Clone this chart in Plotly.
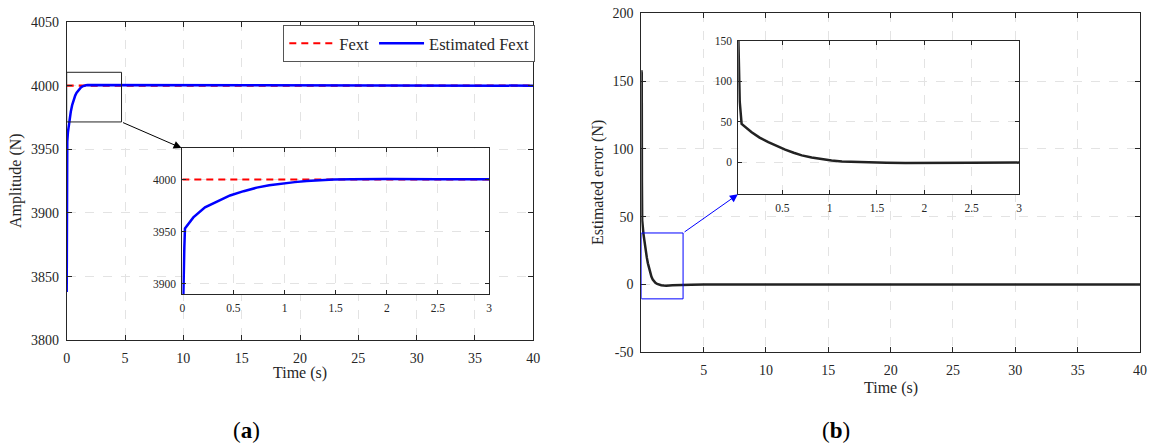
import plotly.graph_objects as go

# ---- data -------------------------------------------------------------
# estimated external force (panel a)
time_a = [0, 0.01, 0.02, 0.026, 0.05, 0.108, 0.222, 0.35, 0.467, 0.6, 0.728,
          0.85, 0.972, 1.1, 1.217, 1.35, 1.48, 1.65, 1.8, 2.0, 2.5, 3.0, 4.0,
          5.0, 10.0, 20.0, 30.0, 40.0]
est_fext = [3838, 3900, 3935, 3953, 3956, 3963.6, 3973.3, 3979.5, 3984.7,
            3988.8, 3992.2, 3994.4, 3996.1, 3997.5, 3998.6, 3999.4, 4000,
            4000.3, 4000.5, 4000.5, 4000.3, 4000.1, 4000, 4000, 4000, 4000,
            4000, 4000]
fext_t = [0, 40]
fext = [4000, 4000]

# estimation error (panel b)
time_b = [0, 0.035, 0.05, 0.07, 0.176, 0.26, 0.352, 0.44, 0.53, 0.62, 0.706,
          0.81, 0.918, 1.02, 1.13, 1.27, 1.41, 1.6, 1.8, 2.0, 2.5, 3.0, 4.0,
          5.0, 10.0, 20.0, 30.0, 40.0]
est_error = [158, 156, 75, 47.5, 37.2, 30.5, 24.9, 20, 15.6, 11.8, 8.6, 5.9,
             3.7, 2.3, 1.2, 0.5, 0, -0.5, -0.8, -0.9, -0.6, -0.3, -0.1, 0, 0,
             0, 0, 0]

ticks_a_x = [0, 5, 10, 15, 20, 25, 30, 35, 40]
ticks_a_y = [3800, 3850, 3900, 3950, 4000, 4050]
ticks_b_x = [5, 10, 15, 20, 25, 30, 35, 40]
ticks_b_y = [-50, 0, 50, 100, 150, 200]
ticks_in_x = [0, 0.5, 1, 1.5, 2, 2.5, 3]
ticks_in_a_y = [3900, 3950, 4000]
ticks_in_b_x = [0.5, 1, 1.5, 2, 2.5, 3]
ticks_in_b_y = [0, 50, 100, 150]

W, H = 1151, 447
FONT = "Liberation Serif, DejaVu Serif, serif"
INK = "#262626"
GRID = "#e3e3e3"


def px_x(p):
    return p / W


def px_y(p):
    return 1 - p / H


fig = go.Figure()

red_line = dict(color="#ff0000", width=2.2, dash="7px,5px")
blue_line = dict(color="#0000ff", width=2.5)
black_line = dict(color="#222222", width=2.5)

# main (a)
fig.add_trace(go.Scatter(x=fext_t, y=fext, mode="lines", name="Fext",
                         line=red_line, xaxis="x", yaxis="y"))
fig.add_trace(go.Scatter(x=time_a, y=est_fext, mode="lines", name="Estimated Fext",
                         line=blue_line, xaxis="x", yaxis="y"))
# main (b)
fig.add_trace(go.Scatter(x=time_b, y=est_error, mode="lines", showlegend=False,
                         line=black_line, xaxis="x2", yaxis="y2"))
# inset (a)
fig.add_trace(go.Scatter(x=fext_t, y=fext, mode="lines", showlegend=False,
                         line=red_line, xaxis="x3", yaxis="y3"))
fig.add_trace(go.Scatter(x=time_a, y=est_fext, mode="lines", showlegend=False,
                         line=blue_line, xaxis="x3", yaxis="y3"))
# inset (b)
fig.add_trace(go.Scatter(x=time_b, y=est_error, mode="lines", showlegend=False,
                         line=black_line, xaxis="x4", yaxis="y4"))


def axis(domain, rng, ticks, size, ticklen=5, **kw):
    d = dict(domain=domain, range=rng, tickvals=ticks,
             ticktext=[("%g" % t) for t in ticks], automargin=False,
             showline=True, linecolor=INK, linewidth=1, mirror="ticks",
             ticks="inside", ticklen=ticklen, tickcolor=INK, tickwidth=1,
             showgrid=True, gridcolor=GRID, griddash="dash", gridwidth=1,
             zeroline=False, tickfont=dict(family=FONT, size=size, color=INK))
    d.update(kw)
    return d


dom_a_x = [px_x(66.7), px_x(533.3)]
dom_a_y = [px_y(340.3), px_y(22)]
dom_b_x = [px_x(641.3), px_x(1140)]
dom_b_y = [px_y(352.3), px_y(13.3)]
dom_ia_x = [px_x(182.3), px_x(489)]
dom_ia_y = [px_y(294), px_y(148.3)]
dom_ib_x = [px_x(738.3), px_x(1019)]
dom_ib_y = [px_y(194), px_y(40.7)]

fig.update_layout(
    width=W, height=H,
    margin=dict(l=0, r=0, t=0, b=0, autoexpand=False),
    paper_bgcolor="white", plot_bgcolor="white",
    xaxis=axis(dom_a_x, [0, 40], ticks_a_x, 14, anchor="y", ticklabelstandoff=5),
    yaxis=axis(dom_a_y, [3800, 4050], ticks_a_y, 14, anchor="x", ticklabelstandoff=4),
    xaxis2=axis(dom_b_x, [0, 40], ticks_b_x, 14, anchor="y2", ticklabelstandoff=5),
    yaxis2=axis(dom_b_y, [-50, 200], ticks_b_y, 14, anchor="x2", ticklabelstandoff=4),
    xaxis3=axis(dom_ia_x, [0, 3], ticks_in_x, 11.5, ticklen=4, anchor="y3", ticklabelstandoff=3),
    yaxis3=axis(dom_ia_y, [3890, 4030], ticks_in_a_y, 11.5, ticklen=4, anchor="x3", ticklabelstandoff=3),
    xaxis4=axis(dom_ib_x, [0.035, 3], ticks_in_b_x, 11.5, ticklen=4, anchor="y4", ticklabelstandoff=3),
    yaxis4=axis(dom_ib_y, [-39, 150], ticks_in_b_y, 11.5, ticklen=4, anchor="x4", ticklabelstandoff=3),
    legend=dict(orientation="h", x=px_x(283.3), y=px_y(25), xanchor="left", yanchor="top",
                bgcolor="white", bordercolor="#555555", borderwidth=1,
                font=dict(family=FONT, size=16.5, color=INK),
                itemwidth=45, tracegroupgap=0),
    showlegend=True,
)

# zoom boxes
fig.add_shape(type="rect", xref="x", yref="y", x0=0, x1=4.7, y0=3971.5, y1=4010.5,
              line=dict(color="#222222", width=1), layer="above")
fig.add_shape(type="rect", xref="x2", yref="y2", x0=0, x1=3.35, y0=-10.6, y1=38,
              line=dict(color="#0000ff", width=1), layer="above")

txt = dict(xref="paper", yref="paper", showarrow=False, xanchor="center", yanchor="middle")
annotations = [
    # arrows from zoom boxes to insets
    dict(x=9.85, y=3951, xref="x", yref="y", ax=4.7, ay=3971.5, axref="x", ayref="y",
         showarrow=True, arrowhead=2, arrowsize=1.6, arrowwidth=1, arrowcolor="#000000",
         text=""),
    dict(x=7.75, y=66.5, xref="x2", yref="y2", ax=3.35, ay=38, axref="x2", ayref="y2",
         showarrow=True, arrowhead=2, arrowsize=1.6, arrowwidth=1, arrowcolor="#0000ff",
         text=""),
    # axis titles
    dict(x=px_x(300), y=px_y(373), text="Time (s)",
         font=dict(family=FONT, size=16, color=INK), **txt),
    dict(x=px_x(891), y=px_y(388), text="Time (s)",
         font=dict(family=FONT, size=16, color=INK), **txt),
    dict(x=px_x(16), y=px_y(181), text="Amplitude (N)", textangle=-90,
         font=dict(family=FONT, size=16, color=INK), **txt),
    dict(x=px_x(598), y=px_y(183), text="Estimated error (N)", textangle=-90,
         font=dict(family=FONT, size=16, color=INK), **txt),
    # panel labels
    dict(x=px_x(246), y=px_y(430), text="(<b>a</b>)",
         font=dict(family=FONT, size=23, color="#000000"), **txt),
    dict(x=px_x(836), y=px_y(430), text="(<b>b</b>)",
         font=dict(family=FONT, size=23, color="#000000"), **txt),
]
fig.update_layout(annotations=annotations)

fig.write_html("out.html")
